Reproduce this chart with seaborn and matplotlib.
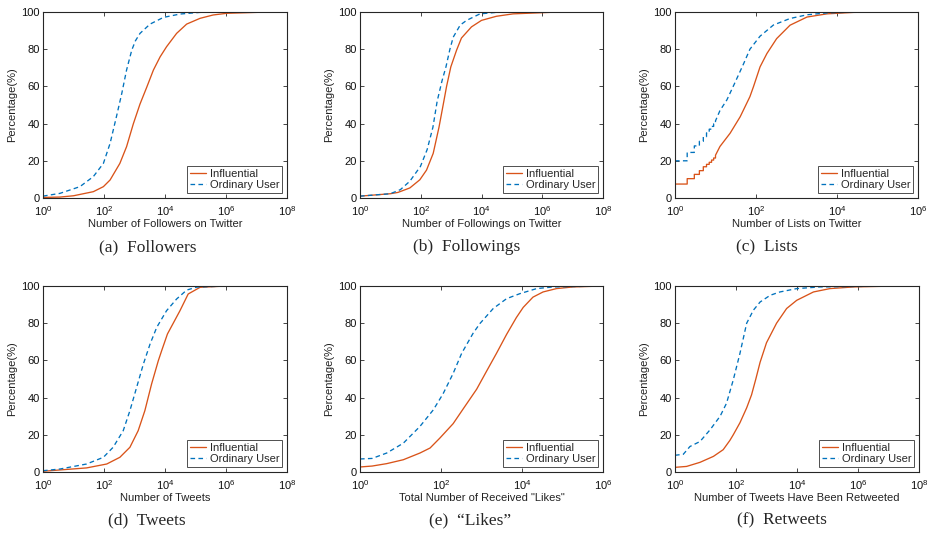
import numpy as np
import matplotlib
matplotlib.use("Agg")
import matplotlib.pyplot as plt
import seaborn as sns

sns.set_style("ticks")
plt.rcParams['font.family'] = ['Liberation Sans', 'DejaVu Sans']
plt.rcParams['mathtext.fontset'] = 'custom'
plt.rcParams['mathtext.rm'] = 'Liberation Sans'
plt.rcParams['mathtext.it'] = 'Liberation Sans:italic'
plt.rcParams['mathtext.bf'] = 'Liberation Sans:bold'

# ---------------- data (x given as log10 of the count) ----------------
series_names = ["Influential", "Ordinary User"]

# (a) Followers
fol_inf_logx = [0, 0.557, 1.0, 1.65, 1.98, 2.2, 2.52, 2.74, 2.96, 3.18, 3.4, 3.62, 3.84, 4.05, 4.38, 4.71, 5.15, 5.58, 6.02, 7.2, 7.9]
fol_inf_pct = [0.3, 0.5, 1.2, 3.4, 6.1, 9.7, 18.6, 27.6, 39.8, 50.5, 59.5, 68.8, 75.9, 81.3, 88.5, 93.5, 96.6, 98.4, 99.3, 99.9, 100]
fol_ord_logx = [0, 0.557, 1.21, 1.65, 1.98, 2.2, 2.41, 2.58, 2.74, 2.91, 3.03, 3.18, 3.51, 3.95, 4.49, 5.15, 6.5, 7.9]
fol_ord_pct = [1, 2.5, 6.1, 11.5, 18.6, 29.4, 43.9, 56, 68.8, 79.5, 84.5, 88.5, 93.5, 97.1, 98.9, 99.8, 100, 100]

# (b) Followings
fwg_inf_logx = [0, 1, 1.25, 1.64, 1.97, 2.19, 2.41, 2.6, 2.76, 2.85, 2.99, 3.18, 3.34, 3.67, 4.0, 4.49, 5.04, 6.25]
fwg_inf_pct = [1, 2.3, 3, 5.4, 9.8, 15, 24, 38, 52, 60, 70.5, 79.5, 86, 92, 95.5, 97.7, 99, 99.8]
fwg_ord_logx = [0, 1, 1.33, 1.64, 1.99, 2.21, 2.4, 2.54, 2.7, 2.83, 2.96, 3.07, 3.3, 3.51, 3.95, 4.49, 6.25]
fwg_ord_pct = [1, 2.3, 4.5, 9, 17, 26, 38, 52, 63, 70.5, 80, 86.5, 93, 95.5, 99, 99.8, 100]

# (c) Lists: integer counts 1..10 (step CDF) then continuous part
lst_int_counts = [1, 2, 3, 4, 5, 6, 7, 8, 9, 10]
lst_inf_int_pct = [7.5, 10.4, 12.7, 14.7, 16.8, 18.1, 19.2, 20.4, 21.5, 23]
lst_ord_int_pct = [20, 24.5, 28, 30.5, 33, 35, 37, 38.5, 40, 41.5]
lst_inf_logx = [1.11, 1.36, 1.61, 1.85, 1.94, 2.1, 2.27, 2.51, 2.84, 3.26, 3.75, 4.41, 5.15]
lst_inf_pct = [27.7, 34.8, 43.7, 54.5, 60, 70.5, 77.7, 85.7, 92.9, 97.3, 99, 99.8, 100]
lst_ord_logx = [1.11, 1.28, 1.48, 1.69, 1.85, 2.1, 2.43, 2.84, 3.26, 3.75, 4.5, 5.15]
lst_ord_pct = [47, 52.7, 62, 72, 80, 87, 93, 96.5, 98.5, 99.5, 100, 100]

# (d) Tweets
twt_inf_logx = [0, 0.557, 1.43, 2.09, 2.52, 2.85, 3.12, 3.34, 3.56, 3.78, 3.89, 4.08, 4.49, 4.76, 5.15, 6.0, 6.14]
twt_inf_pct = [0.4, 1.1, 2.2, 4.3, 7.9, 13.3, 22.2, 33, 47.3, 59.8, 65.2, 74.2, 86.7, 95.7, 99.3, 100, 100]
twt_ord_logx = [0, 0.557, 1.43, 1.98, 2.3, 2.63, 2.85, 3.07, 3.29, 3.51, 3.73, 4.05, 4.38, 4.71, 5.04, 6.0, 6.14]
twt_ord_pct = [0.7, 1.6, 4.3, 7.9, 13.3, 22.2, 33, 45.5, 58, 68.8, 77.8, 86.7, 93, 97.8, 99.4, 100, 100]

# (e) "Likes"
lik_inf_logx = [0, 0.3, 0.66, 1.07, 1.48, 1.73, 1.97, 2.3, 2.55, 2.88, 3.12, 3.37, 3.62, 3.86, 4.03, 4.27, 4.52, 4.85, 5.26, 6.0]
lik_inf_pct = [2.7, 3.2, 4.5, 6.6, 10.2, 12.9, 18.2, 26, 34, 44.5, 54, 63.8, 74, 83, 88.5, 94, 96.8, 98.6, 99.5, 100]
lik_ord_logx = [0, 0.3, 0.66, 1.07, 1.48, 1.81, 2.05, 2.3, 2.51, 2.79, 2.96, 3.29, 3.62, 3.95, 4.36, 4.77, 6.0]
lik_ord_pct = [7, 7.3, 10.2, 15.5, 24.5, 33.4, 42, 53, 63.8, 74.5, 79.8, 87.9, 93.2, 95.9, 98.6, 99.5, 100]

# (f) Retweets
rtw_inf_logx = [0, 0.38, 0.82, 1.26, 1.58, 1.8, 1.91, 2.13, 2.35, 2.51, 2.65, 2.79, 3.0, 3.33, 3.66, 3.99, 4.54, 5.08, 5.85, 7.27]
rtw_inf_pct = [2.5, 3, 5.2, 8.4, 12, 17, 20, 26.5, 34.5, 41.5, 50, 59, 69.5, 80, 87.9, 92.3, 96.8, 98.6, 99.5, 100]
rtw_ord_logx = [0, 0.27, 0.49, 0.82, 1.15, 1.48, 1.69, 1.91, 2.13, 2.35, 2.57, 2.79, 3.12, 3.44, 3.99, 4.75, 7.27]
rtw_ord_pct = [9, 9.5, 13.7, 16.4, 22.7, 30, 37, 49.5, 63.8, 80, 87, 91.4, 95, 96.8, 98.6, 99.5, 100]

x_labels = ["Number of Followers on Twitter", "Number of Followings on Twitter",
            "Number of Lists on Twitter", "Number of Tweets",
            'Total Number of Received "Likes"', "Number of Tweets Have Been Retweeted"]
captions = ["(a)  Followers", "(b)  Followings", "(c)  Lists",
            "(d)  Tweets", "(e)  \u201cLikes\u201d", "(f)  Retweets"]
x_max_exp = [8, 8, 6, 8, 6, 8]
y_label = "Percentage(%)"
y_ticks = [0, 20, 40, 60, 80, 100]


def step_then_curve(counts, int_pct, logx, pct):
    c = np.asarray(counts, float)
    v = np.asarray(int_pct, float)
    xs = np.repeat(c, 2)[1:]
    ys = np.repeat(v, 2)[:-1]
    xs = np.concatenate([xs, 10 ** np.asarray(logx, float)])
    ys = np.concatenate([ys, np.asarray(pct, float)])
    return xs, ys


panels = [
    ((10 ** np.array(fol_inf_logx), np.array(fol_inf_pct)), (10 ** np.array(fol_ord_logx), np.array(fol_ord_pct))),
    ((10 ** np.array(fwg_inf_logx), np.array(fwg_inf_pct)), (10 ** np.array(fwg_ord_logx), np.array(fwg_ord_pct))),
    (step_then_curve(lst_int_counts, lst_inf_int_pct, lst_inf_logx, lst_inf_pct),
     step_then_curve(lst_int_counts, lst_ord_int_pct, lst_ord_logx, lst_ord_pct)),
    ((10 ** np.array(twt_inf_logx), np.array(twt_inf_pct)), (10 ** np.array(twt_ord_logx), np.array(twt_ord_pct))),
    ((10 ** np.array(lik_inf_logx), np.array(lik_inf_pct)), (10 ** np.array(lik_ord_logx), np.array(lik_ord_pct))),
    ((10 ** np.array(rtw_inf_logx), np.array(rtw_inf_pct)), (10 ** np.array(rtw_ord_logx), np.array(rtw_ord_pct))),
]

W, H = 931, 534
fig = plt.figure(figsize=(W / 100, H / 100), dpi=100)

ax_px = [(43, 12, 287, 198), (360, 12, 603, 198), (675, 12, 918, 198),
         (43, 286, 287, 472), (360, 286, 603, 472), (675, 286, 919, 472)]
cap_px = [(148, 247), (467, 247), (767, 247), (147, 520), (470, 520), (782, 520)]

c_inf = "#D95319"
c_ord = "#0072BD"
fs = 8

for i, ((xi, yi), (xo, yo)) in enumerate(panels):
    l, t, r, b = ax_px[i]
    ax = fig.add_axes([l / W, 1 - b / H, (r - l) / W, (b - t) / H])
    sns.lineplot(x=xi, y=yi, ax=ax, color=c_inf, linewidth=0.95, sort=False,
                 estimator=None, label=series_names[0])
    sns.lineplot(x=xo, y=yo, ax=ax, color=c_ord, linewidth=0.95, sort=False,
                 estimator=None, label=series_names[1], linestyle=(0, (3.5, 2.5)))
    ax.set_xscale("log")
    ax.set_xlim(1, 10 ** x_max_exp[i])
    ax.set_ylim(0, 100)
    ax.set_xticks([10 ** k for k in range(0, x_max_exp[i] + 1, 2)])
    ax.xaxis.set_minor_locator(matplotlib.ticker.NullLocator())
    ax.set_yticks(y_ticks)
    ax.tick_params(direction="in", length=3, width=0.6, labelsize=fs,
                   top=True, right=True, colors="#262626", labelcolor="#111111")
    ax.tick_params(axis="x", pad=4.5)
    ax.tick_params(axis="y", pad=2.5)
    for s in ax.spines.values():
        s.set_visible(True)
        s.set_linewidth(0.8)
        s.set_color("#262626")
    ax.set_xlabel(x_labels[i], fontsize=fs, labelpad=0.5, color="#222222")
    ax.set_ylabel(y_label, fontsize=fs, labelpad=3, color="#222222")
    leg = ax.legend(loc="lower right", fontsize=fs, frameon=True, fancybox=False,
                    borderaxespad=0.45, handlelength=1.5, handletextpad=0.3,
                    borderpad=0.25, labelspacing=0.1)
    leg.get_frame().set_edgecolor("#222222")
    leg.get_frame().set_linewidth(0.7)
    cx, cy = cap_px[i]
    fig.text(cx / W, 1 - cy / H, captions[i], ha="center", va="center",
             fontsize=12.5, family=["Liberation Serif", "DejaVu Serif"])

fig.savefig("out.png", dpi=100, facecolor="white")
